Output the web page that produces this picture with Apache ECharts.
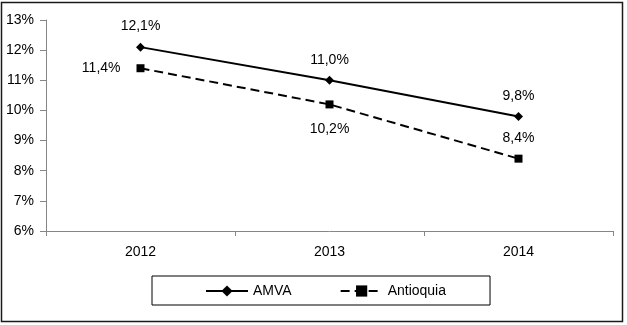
<!DOCTYPE html>
<html>
<head>
<meta charset="utf-8">
<script src="https://cdn.jsdelivr.net/npm/echarts@6/dist/echarts.min.js"></script>
<style>
html,body{margin:0;padding:0;background:#fff;}
#chart{width:627px;height:325px;}
</style>
</head>
<body>
<div id="chart"></div>
<script>
// datos
var years = ["2012", "2013", "2014"];
var amva = [12.1, 11.0, 9.8];
var antioquia = [11.4, 10.2, 8.4];

var myChart = echarts.init(document.getElementById('chart'));

// posiciones de etiquetas para Antioquia
var posAnt = ['left', 'bottom', 'top'];
var distAnt = [16, 14, 10];
var fs = 14;

function fmt(p) {
    return p.value.toFixed(1).replace('.', ',') + '%';
}

var option = {
    backgroundColor: '#fff',
    animation: false,
    textStyle: { fontFamily: 'Liberation Sans, Arial, sans-serif' },
    graphic: [{
        type: 'rect',
        shape: { x: 1.5, y: 2.5, width: 621, height: 319 },
        style: { fill: 'none', stroke: '#1a1a1a', lineWidth: 1.5 },
        silent: true
    }],
    grid: { left: 46, right: 14, top: 20, bottom: 94 },
    legend: {
        left: 152,
        top: 276,
        padding: [8, 44, 7, 53],
        borderColor: '#000',
        borderWidth: 1,
        itemWidth: 42,
        itemHeight: 14,
        itemGap: 48,
        itemTextGap: 4,
        textStyle: { fontSize: fs, color: '#000', fontFamily: 'Liberation Sans, Arial, sans-serif' },
        data: ['AMVA', 'Antioquia']
    },
    xAxis: {
        type: 'category',
        data: years,
        boundaryGap: true,
        axisLine: { lineStyle: { color: '#868686', width: 1 } },
        axisTick: { show: true, length: 5, lineStyle: { color: '#868686' } },
        axisLabel: { margin: 14, fontSize: fs, color: '#000' },
        splitLine: { show: false }
    },
    yAxis: {
        type: 'value',
        min: 6,
        max: 13,
        interval: 1,
        axisLine: { show: true, lineStyle: { color: '#868686', width: 1 } },
        axisTick: { show: true, length: 6, lineStyle: { color: '#868686' } },
        axisLabel: { margin: 12, fontSize: fs, color: '#000', formatter: '{value}%' },
        splitLine: { show: false }
    },
    series: [{
        name: 'AMVA',
        type: 'line',
        data: amva,
        symbol: 'diamond',
        symbolSize: 9,
        itemStyle: { color: '#000' },
        lineStyle: { color: '#000', width: 2 },
        label: { show: true, position: 'top', distance: 9, fontSize: fs, color: '#000', formatter: fmt }
    }, {
        name: 'Antioquia',
        type: 'line',
        data: antioquia.map(function (v, i) {
            return { value: v, label: { position: posAnt[i], distance: distAnt[i] } };
        }),
        symbol: 'rect',
        symbolSize: 8,
        itemStyle: { color: '#000' },
        lineStyle: { color: '#000', width: 2, type: [9, 5] },
        label: { show: true, fontSize: fs, color: '#000', formatter: fmt }
    }]
};

myChart.setOption(option);
</script>
</body>
</html>
